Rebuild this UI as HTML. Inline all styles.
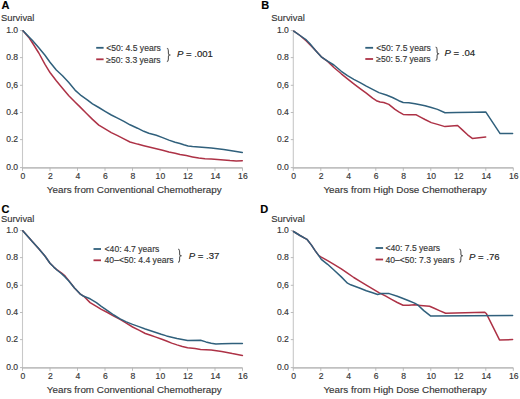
<!DOCTYPE html>
<html><head><meta charset="utf-8"><style>
html,body{margin:0;padding:0;background:#fff;}
svg{display:block;}
text{font-family:"Liberation Sans",sans-serif;fill:#363636;stroke:#363636;stroke-width:0.15px;}
.tk{font-size:8.6px;}
.ti{font-size:9.85px;}
.sv{font-size:9.9px;}
.lb{font-size:11px;font-weight:bold;fill:#000;stroke:#000;stroke-width:0.15px;}
.lg{font-size:8.6px;}
.pv{font-size:9.6px;fill:#222;stroke:#222;stroke-width:0.15px;}
</style></head><body>
<svg width="520" height="399" viewBox="0 0 520 399">
<rect width="520" height="399" fill="#fff"/>
<path d="M22.5,30.6V167.8" fill="none" stroke="#c8c8c8" stroke-width="1.1"/>
<path d="M22,167.9H242.5" fill="none" stroke="#c0c0c0" stroke-width="1.6"/>
<path d="M20,167.6H22.5M20,139.6H22.5M20,112.5H22.5M20,85.3H22.5M20,57.6H22.5M20,30.6H22.5M22.5,167.8V170.8M50,167.8V170.8M77.5,167.8V170.8M105,167.8V170.8M132.5,167.8V170.8M160,167.8V170.8M187.5,167.8V170.8M215,167.8V170.8M242.5,167.8V170.8" fill="none" stroke="#b4b4b4" stroke-width="0.9"/>
<text x="18.1" y="170" text-anchor="end" class="tk">0.0</text>
<text x="18.1" y="142" text-anchor="end" class="tk">0.2</text>
<text x="18.1" y="114.9" text-anchor="end" class="tk">0.4</text>
<text x="18.1" y="87.7" text-anchor="end" class="tk">0,6</text>
<text x="18.1" y="60" text-anchor="end" class="tk">0.8</text>
<text x="18.1" y="33" text-anchor="end" class="tk">1.0</text>
<text x="22.9" y="179.1" text-anchor="middle" class="tk">0</text>
<text x="50.4" y="179.1" text-anchor="middle" class="tk">2</text>
<text x="77.9" y="179.1" text-anchor="middle" class="tk">4</text>
<text x="105.4" y="179.1" text-anchor="middle" class="tk">6</text>
<text x="132.9" y="179.1" text-anchor="middle" class="tk">8</text>
<text x="160.4" y="179.1" text-anchor="middle" class="tk">10</text>
<text x="187.9" y="179.1" text-anchor="middle" class="tk">12</text>
<text x="215.4" y="179.1" text-anchor="middle" class="tk">14</text>
<text x="242.9" y="179.1" text-anchor="middle" class="tk">16</text>
<text x="134.2" y="193.1" text-anchor="middle" class="ti">Years from Conventional Chemotherapy</text>
<text x="1.5" y="9.2" class="lb">A</text>
<text transform="translate(0.9,21.4) scale(0.955,1)" class="sv">Survival</text>
<polyline points="23,30.8 28.8,37.4 32.5,43 38.8,53 45,64.3 48.8,70.6 50,72.5 56.3,80.7 62.5,88.2 68.8,95.7 75,102 80,106.9 86.3,113.2 92.5,119.4 98.8,125.1 105.1,128.8 111.3,132.6 117.6,135.7 123.9,138.9 130,142 137.5,144.1 143.8,145.7 150.1,147.3 156.3,148.8 162.6,150.3 168.9,152 175.1,153.2 180,154.4 186.25,155.6 192.5,156.9 198.75,158.1 205,158.75 211.25,159 217.5,159.4 223.75,160 230,160.6 236.25,160.9 242.3,160.7" fill="none" stroke="#ad3246" stroke-width="1.5" stroke-linejoin="round" stroke-linecap="round"/>
<polyline points="23,30.8 28.8,36.8 32.5,40.5 38.8,47.8 45,55.3 50,62.2 56.3,70 62.5,75.7 68.8,82.6 75,90.1 81.3,95.7 87.6,100.1 92.5,103.8 98.8,107.5 105.1,111.3 111.3,115 117.6,118.2 123.9,121.3 130,124.8 137.5,128.2 143.8,131.3 148.8,133.2 156.3,135.3 162.6,137.6 168.9,140.1 175.1,142.3 180,143.5 183.75,144.75 188.1,146 192.5,146.6 198.75,147.1 205,147.5 211.25,147.9 217.5,148.75 223.75,149.6 230,150.6 236.25,151.5 242.3,152.5" fill="none" stroke="#30607c" stroke-width="1.5" stroke-linejoin="round" stroke-linecap="round"/>
<path d="M96.2,47.8H103.6" stroke="#30607c" stroke-width="1.8"/>
<path d="M96.2,59.3H103.6" stroke="#ad3246" stroke-width="1.8"/>
<text x="106.2" y="50.9" class="lg">&lt;50: 4.5 years</text>
<text x="106.2" y="62.5" class="lg">≥50: 3.3 years</text>
<path d="M166.9,48.3C168.4,48.5 168.4,49.5 168.4,51V53.45C168.4,54.45 169,54.95 170.5,54.95C169,54.95 168.4,55.45 168.4,56.45V58.9C168.4,60.4 168.4,61.4 166.9,61.6" fill="none" stroke="#555" stroke-width="1.1"/>
<text x="176.9" y="57.3" class="pv"><tspan font-style="italic">P</tspan> = .001</text>
<path d="M293.3,30.6V167.8" fill="none" stroke="#c8c8c8" stroke-width="1.1"/>
<path d="M292.8,167.9H513.3" fill="none" stroke="#c0c0c0" stroke-width="1.6"/>
<path d="M290.8,167.6H293.3M290.8,139.6H293.3M290.8,112.5H293.3M290.8,85.3H293.3M290.8,57.6H293.3M290.8,30.6H293.3M293.3,167.8V170.8M320.8,167.8V170.8M348.3,167.8V170.8M375.8,167.8V170.8M403.3,167.8V170.8M430.8,167.8V170.8M458.3,167.8V170.8M485.8,167.8V170.8M513.3,167.8V170.8" fill="none" stroke="#b4b4b4" stroke-width="0.9"/>
<text x="288.9" y="170" text-anchor="end" class="tk">0.0</text>
<text x="288.9" y="142" text-anchor="end" class="tk">0.2</text>
<text x="288.9" y="114.9" text-anchor="end" class="tk">0.4</text>
<text x="288.9" y="87.7" text-anchor="end" class="tk">0,6</text>
<text x="288.9" y="60" text-anchor="end" class="tk">0.8</text>
<text x="288.9" y="33" text-anchor="end" class="tk">1.0</text>
<text x="293.7" y="179.1" text-anchor="middle" class="tk">0</text>
<text x="321.2" y="179.1" text-anchor="middle" class="tk">2</text>
<text x="348.7" y="179.1" text-anchor="middle" class="tk">4</text>
<text x="376.2" y="179.1" text-anchor="middle" class="tk">6</text>
<text x="403.7" y="179.1" text-anchor="middle" class="tk">8</text>
<text x="431.2" y="179.1" text-anchor="middle" class="tk">10</text>
<text x="458.7" y="179.1" text-anchor="middle" class="tk">12</text>
<text x="486.2" y="179.1" text-anchor="middle" class="tk">14</text>
<text x="513.7" y="179.1" text-anchor="middle" class="tk">16</text>
<text x="405" y="193.1" text-anchor="middle" class="ti">Years from High Dose Chemotherapy</text>
<text x="261.3" y="9.2" class="lb">B</text>
<text transform="translate(271.2,21.4) scale(0.955,1)" class="sv">Survival</text>
<polyline points="293.8,31.1 300,35.5 306.3,41 310,44.8 315.1,49.9 321.3,56.8 327.6,61.4 333.9,67.5 341.3,73.8 347.5,78.8 353.8,83.8 360.1,88.6 366.3,93.2 372.6,98.2 376.4,100.7 380.1,102 383.8,102.5 388.8,104.4 395,109.4 398.8,111.9 403.2,114.4 408.8,114.8 416.3,114.8 421.4,117.6 425,119.5 431.3,122.6 437.5,124.4 445,126.6 457.6,125.5 462.6,130.1 467.6,134.8 472.3,138.4 485.7,137.1" fill="none" stroke="#ad3246" stroke-width="1.5" stroke-linejoin="round" stroke-linecap="round"/>
<polyline points="293.8,31.1 300,35.5 306.3,39.9 310,43.7 315.1,49.9 321.3,56.8 327.6,61.2 333.9,65 341.3,71.3 347.5,75.7 353.8,79.4 360.1,82.6 366.3,86.1 372.6,89.4 378.9,92.6 386.3,95 392.5,97.5 398.8,100.7 403.2,102.5 408.8,102.8 415.1,103.8 421.4,105 425,105.7 431.3,107.5 437.5,109.4 445,112.8 456.3,112.5 475,112.2 485.7,111.9 500.1,133.6 512.6,133.6" fill="none" stroke="#30607c" stroke-width="1.5" stroke-linejoin="round" stroke-linecap="round"/>
<path d="M365.3,47.8H373.1" stroke="#30607c" stroke-width="1.8"/>
<path d="M365.3,59H373.1" stroke="#ad3246" stroke-width="1.8"/>
<text x="376.2" y="50.9" class="lg">&lt;50: 7.5 years</text>
<text x="376.2" y="62" class="lg">≥50: 5.7 years</text>
<path d="M435.6,47C437.1,47.2 437.1,48.2 437.1,49.7V52.25C437.1,53.25 437.7,53.75 439.2,53.75C437.7,53.75 437.1,54.25 437.1,55.25V57.8C437.1,59.3 437.1,60.3 435.6,60.5" fill="none" stroke="#555" stroke-width="1.1"/>
<text x="444.4" y="56.2" class="pv"><tspan font-style="italic">P</tspan> = .04</text>
<path d="M22.5,230.6V367.8" fill="none" stroke="#c8c8c8" stroke-width="1.1"/>
<path d="M22,367.9H242.5" fill="none" stroke="#c0c0c0" stroke-width="1.6"/>
<path d="M20,367.6H22.5M20,339.6H22.5M20,312.5H22.5M20,285.3H22.5M20,257.6H22.5M20,230.6H22.5M22.5,367.8V370.8M50,367.8V370.8M77.5,367.8V370.8M105,367.8V370.8M132.5,367.8V370.8M160,367.8V370.8M187.5,367.8V370.8M215,367.8V370.8M242.5,367.8V370.8" fill="none" stroke="#b4b4b4" stroke-width="0.9"/>
<text x="18.1" y="370" text-anchor="end" class="tk">0.0</text>
<text x="18.1" y="342" text-anchor="end" class="tk">0.2</text>
<text x="18.1" y="314.9" text-anchor="end" class="tk">0.4</text>
<text x="18.1" y="287.7" text-anchor="end" class="tk">0,6</text>
<text x="18.1" y="260" text-anchor="end" class="tk">0.8</text>
<text x="18.1" y="233" text-anchor="end" class="tk">1.0</text>
<text x="22.9" y="379.1" text-anchor="middle" class="tk">0</text>
<text x="50.4" y="379.1" text-anchor="middle" class="tk">2</text>
<text x="77.9" y="379.1" text-anchor="middle" class="tk">4</text>
<text x="105.4" y="379.1" text-anchor="middle" class="tk">6</text>
<text x="132.9" y="379.1" text-anchor="middle" class="tk">8</text>
<text x="160.4" y="379.1" text-anchor="middle" class="tk">10</text>
<text x="187.9" y="379.1" text-anchor="middle" class="tk">12</text>
<text x="215.4" y="379.1" text-anchor="middle" class="tk">14</text>
<text x="242.9" y="379.1" text-anchor="middle" class="tk">16</text>
<text x="134.2" y="393.1" text-anchor="middle" class="ti">Years from Conventional Chemotherapy</text>
<text x="1.5" y="212.9" class="lb">C</text>
<text transform="translate(0.9,222.1) scale(0.955,1)" class="sv">Survival</text>
<polyline points="22.8,230.8 32.5,241.8 38.8,248.7 45.1,256.2 50,263.2 53.8,267.1 57.5,270.2 61.3,272.8 65,275.9 68.8,280.6 74.5,288 80,293.8 83.8,296.3 90.1,302.6 96.4,306.4 101.3,309.4 107.5,312.5 113.8,316.1 120.1,319.4 126.3,323.2 132.6,327 138.9,330.1 145.3,333.5 150.6,335.3 155.9,337.1 161.2,339 166.5,341 171.7,343.1 177,344.9 182.3,346.5 187.6,347.7 195,348.6 200.6,349.4 211.2,350.1 221.7,351.5 227,352.5 232.3,353.6 242.4,355.4" fill="none" stroke="#ad3246" stroke-width="1.5" stroke-linejoin="round" stroke-linecap="round"/>
<polyline points="22.8,230.8 32.5,241.8 38.8,248.7 45.1,256.2 50,263.2 53.8,267.1 57.5,270.5 61.3,273.5 65,276.9 68.8,281.1 74.5,288 80,293.8 83.8,296.3 90.1,298.8 96.4,302.6 101.3,306.3 107.5,310.7 113.8,315 120.1,318.8 126.3,321.9 132.6,324.4 138.9,326.6 145.3,329 150.6,330.8 155.9,332.5 161.2,334.3 166.5,335.9 171.7,337.2 177,338.5 182.3,339.6 187.6,340.6 200.6,340.3 205.9,341.9 211.2,343.2 215.9,344.1 221.7,343.8 232.3,343.4 242.4,343.4" fill="none" stroke="#30607c" stroke-width="1.5" stroke-linejoin="round" stroke-linecap="round"/>
<path d="M93.5,249H101" stroke="#30607c" stroke-width="1.8"/>
<path d="M93.5,260.3H101" stroke="#ad3246" stroke-width="1.8"/>
<text x="104.6" y="251.8" class="lg">&lt;40: 4.7 years</text>
<text x="104.6" y="263" class="lg">40–&lt;50: 4.4 years</text>
<path d="M178.1,249C179.6,249.2 179.6,250.2 179.6,251.7V254.2C179.6,255.2 180.2,255.7 181.7,255.7C180.2,255.7 179.6,256.2 179.6,257.2V259.7C179.6,261.2 179.6,262.2 178.1,262.4" fill="none" stroke="#555" stroke-width="1.1"/>
<text x="188.7" y="259.2" class="pv"><tspan font-style="italic">P</tspan> = .37</text>
<path d="M293.3,230.6V367.8" fill="none" stroke="#c8c8c8" stroke-width="1.1"/>
<path d="M292.8,367.9H513.3" fill="none" stroke="#c0c0c0" stroke-width="1.6"/>
<path d="M290.8,367.6H293.3M290.8,339.6H293.3M290.8,312.5H293.3M290.8,285.3H293.3M290.8,257.6H293.3M290.8,230.6H293.3M293.3,367.8V370.8M320.8,367.8V370.8M348.3,367.8V370.8M375.8,367.8V370.8M403.3,367.8V370.8M430.8,367.8V370.8M458.3,367.8V370.8M485.8,367.8V370.8M513.3,367.8V370.8" fill="none" stroke="#b4b4b4" stroke-width="0.9"/>
<text x="288.9" y="370" text-anchor="end" class="tk">0.0</text>
<text x="288.9" y="342" text-anchor="end" class="tk">0.2</text>
<text x="288.9" y="314.9" text-anchor="end" class="tk">0.4</text>
<text x="288.9" y="287.7" text-anchor="end" class="tk">0,6</text>
<text x="288.9" y="260" text-anchor="end" class="tk">0.8</text>
<text x="288.9" y="233" text-anchor="end" class="tk">1.0</text>
<text x="293.7" y="379.1" text-anchor="middle" class="tk">0</text>
<text x="321.2" y="379.1" text-anchor="middle" class="tk">2</text>
<text x="348.7" y="379.1" text-anchor="middle" class="tk">4</text>
<text x="376.2" y="379.1" text-anchor="middle" class="tk">6</text>
<text x="403.7" y="379.1" text-anchor="middle" class="tk">8</text>
<text x="431.2" y="379.1" text-anchor="middle" class="tk">10</text>
<text x="458.7" y="379.1" text-anchor="middle" class="tk">12</text>
<text x="486.2" y="379.1" text-anchor="middle" class="tk">14</text>
<text x="513.7" y="379.1" text-anchor="middle" class="tk">16</text>
<text x="405" y="393.1" text-anchor="middle" class="ti">Years from High Dose Chemotherapy</text>
<text x="260.2" y="212.9" class="lb">D</text>
<text transform="translate(271.2,222.1) scale(0.955,1)" class="sv">Survival</text>
<polyline points="293.5,231.5 300,235.5 306.9,239.3 311.3,244.9 315.1,250.6 318.8,255.6 321.3,257.1 327.6,260.6 333.9,264.3 341.3,268.8 347.5,273.2 353.8,277.5 360.1,281.3 366.3,285.1 372.6,288.8 378.9,292.6 385.8,296.2 391.5,299.4 397.3,302.5 403.1,305.2 408.8,305.2 414.6,304.8 420.4,305.4 429.6,306.3 434.2,308.3 440,310.9 445.6,313.3 484.8,312.2 486.5,313.8 499.5,339.9 512.6,339.6" fill="none" stroke="#ad3246" stroke-width="1.5" stroke-linejoin="round" stroke-linecap="round"/>
<polyline points="293.5,231.5 300,235.5 306.9,239.3 311.3,244.9 315.1,250.6 318.8,255.6 321.3,259.3 327.6,264.3 333.9,270 341.3,276.9 347.5,283.2 350.7,284.8 360.1,288.2 366.3,290.7 372.6,292.8 377.6,294.5 381.4,293.6 389.2,293.6 397.3,296.2 403.1,298.5 408.8,300.8 414.6,303.1 418.1,305.2 423.8,310.6 430.8,316.1 512.6,315.5" fill="none" stroke="#30607c" stroke-width="1.5" stroke-linejoin="round" stroke-linecap="round"/>
<path d="M375.6,248H383.1" stroke="#30607c" stroke-width="1.8"/>
<path d="M375.6,259.5H383.1" stroke="#ad3246" stroke-width="1.8"/>
<text x="385.4" y="251.2" class="lg">&lt;40: 7.5 years</text>
<text x="385.4" y="262.5" class="lg">40–&lt;50: 7.3 years</text>
<path d="M459.4,249C460.9,249.2 460.9,250.2 460.9,251.7V254.2C460.9,255.2 461.5,255.7 463,255.7C461.5,255.7 460.9,256.2 460.9,257.2V259.7C460.9,261.2 460.9,262.2 459.4,262.4" fill="none" stroke="#555" stroke-width="1.1"/>
<text x="469" y="259.8" class="pv"><tspan font-style="italic">P</tspan> = .76</text>
</svg>
</body></html>
